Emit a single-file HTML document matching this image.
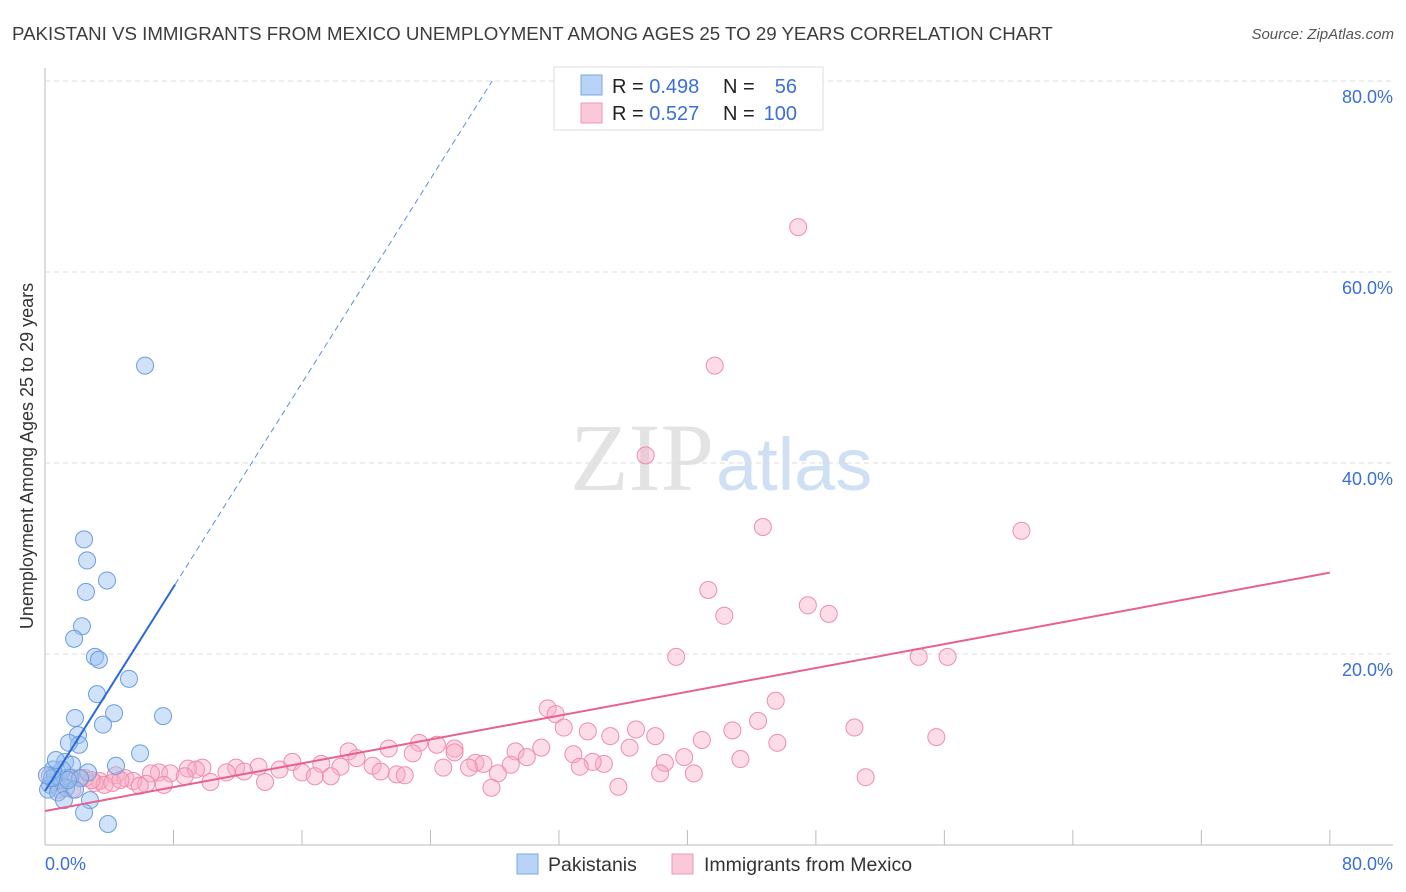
<!DOCTYPE html>
<html><head><meta charset="utf-8"><style>
body{margin:0;background:#fff;font-family:"Liberation Sans",sans-serif;}
svg{display:block}
</style></head><body>
<svg id="chart" width="1406" height="892">
<text x="12" y="40" font-size="18.7" fill="#3c3c3c">PAKISTANI VS IMMIGRANTS FROM MEXICO UNEMPLOYMENT AMONG AGES 25 TO 29 YEARS CORRELATION CHART</text>
<text x="1394" y="39" font-size="15" fill="#555" font-style="italic" text-anchor="end">Source: ZipAtlas.com</text>
<text x="714" y="490" font-size="96" fill="#e3e3e3" text-anchor="end" font-family="Liberation Serif,serif">ZIP</text>
<text x="716" y="490" font-size="74" fill="#cfe0f5">atlas</text>
<text transform="translate(33,456) rotate(-90)" font-size="18" fill="#333" text-anchor="middle">Unemployment Among Ages 25 to 29 years</text>
<g id="grid"></g><g id="pinkpts"></g><g id="bluepts"></g><g id="lines"></g>
<g>
<rect x="554" y="67" width="269" height="63" fill="#fff" stroke="#ddd"/>
<rect x="581" y="75" width="21" height="20" fill="#b8d3f5" stroke="#7aa7e3"/>
<rect x="581" y="103" width="21" height="20" fill="#fac8d8" stroke="#ee9ab5"/>
<text x="612" y="93" font-size="20" fill="#222">R = <tspan fill="#3a6fd8">0.498</tspan></text>
<text x="723" y="93" font-size="20" fill="#222">N = </text><text x="797" y="93" font-size="20" fill="#3a6fd8" text-anchor="end">56</text>
<text x="612" y="120" font-size="20" fill="#222">R = <tspan fill="#3a6fd8">0.527</tspan></text>
<text x="723" y="120" font-size="20" fill="#222">N = </text><text x="797" y="120" font-size="20" fill="#3a6fd8" text-anchor="end">100</text>
</g>
<g>
<rect x="517" y="854" width="21" height="20" fill="#b8d3f5" stroke="#7aa7e3"/>
<text x="548" y="871" font-size="19.5" fill="#333">Pakistanis</text>
<rect x="672" y="854" width="21" height="20" fill="#fac8d8" stroke="#ee9ab5"/>
<text x="704" y="871" font-size="19.5" fill="#333">Immigrants from Mexico</text>
</g>
<text x="45" y="870" font-size="18" fill="#3a6fd8">0.0%</text>
<text x="1393" y="870" font-size="18" fill="#3a6fd8" text-anchor="end">80.0%</text>
</svg>
<script>
const yTicks=[20,40,60,80];
const yTickLabels=["20.0%","40.0%","60.0%","80.0%"];
const blueX=[2.43,2.62,3.86,2.55,2.30,1.81,3.11,3.36,5.23,3.24,4.30,7.35,1.87,3.61,2.05,2.12,1.49,5.92,4.42,1.25,1.68,2.68,2.80,2.43,3.92,6.23,0.62,0.93,0.31,0.19,1.06,0.81,1.56,1.31,1.18,0.50,2.18,1.87,0.68,0.44,0.12,1.43];
const blueY=[32.0,29.8,27.7,26.5,22.9,21.6,19.7,19.4,17.4,15.8,13.8,13.5,13.3,12.6,11.5,10.5,10.7,9.6,8.3,8.7,8.4,7.6,4.7,3.4,2.2,50.2,7.3,6.8,6.3,5.8,7.9,5.5,7.0,6.0,4.7,7.9,7.0,5.8,8.9,7.0,7.3,6.8];
const pinkX=[46.9,41.7,37.4,44.7,60.8,41.3,47.5,42.3,48.8,39.3,54.4,56.2,31.3,31.8,45.5,44.4,32.3,33.8,36.8,38.0,42.8,50.4,55.5,35.2,40.9,45.6,23.3,24.4,25.5,18.9,21.4,25.5,29.3,30.9,32.9,36.4,39.8,43.3,30.0,22.9,19.4,34.8,34.1,26.8,27.3,29.0,33.3,38.6,15.4,17.2,18.4,20.4,24.8,26.4,21.9,22.4,20.9,13.3,11.9,14.6,16.0,16.8,17.8,9.8,8.9,9.4,11.3,12.4,7.1,6.6,7.8,8.7,4.4,5.0,5.5,6.3,7.4,10.3,13.7,38.3,40.4,51.1,28.2,27.8,35.7,3.4,3.1,2.5,1.6,3.7,5.9,1.7,0.3,0.6,0.9,4.2,2.9,2.2,1.2,4.7];
const pinkY=[64.7,50.2,40.8,33.3,32.9,26.7,25.1,24.0,24.2,19.7,19.7,19.7,14.3,13.7,15.1,13.0,12.3,11.9,12.1,11.4,12.0,12.3,11.3,11.4,11.0,10.7,10.7,10.5,10.1,9.8,10.1,9.7,9.8,10.2,9.5,10.2,9.2,9.0,9.2,9.6,9.1,8.5,8.7,8.6,8.5,8.4,8.2,8.6,8.7,8.5,8.2,8.3,8.1,8.1,7.4,7.3,7.7,8.2,8.1,7.9,7.6,7.2,7.2,8.1,8.0,7.9,7.6,7.7,7.6,7.5,7.5,7.2,7.3,7.0,6.7,6.4,6.3,6.6,6.6,7.5,7.5,7.1,7.5,6.0,6.1,6.7,6.5,7.0,7.1,6.3,6.2,5.8,7.2,6.6,5.8,6.5,6.8,7.0,6.6,6.8];
const blueFit=[5.65,2.67,8.1];
const pinkFit=[3.56,0.312];
const NS="http://www.w3.org/2000/svg";
const X=v=>45+v*16.06, Y=v=>845-v*9.55;
function mk(t,a,p){const e=document.createElementNS(NS,t);for(const k in a)e.setAttribute(k,a[k]);p.appendChild(e);return e;}
const grid=document.getElementById('grid');
yTicks.forEach((t,i)=>{
 const l=mk('line',{x1:45,x2:1393,y1:Y(t),y2:Y(t),stroke:'#ddd','stroke-dasharray':'5,4'},grid);
 
 
 const tx=mk('text',{x:1393,y:Y(t)+22,'font-size':18,fill:'#3a6fd8','text-anchor':'end'},grid);
 tx.textContent=yTickLabels[i];
 
 
});
const ax=mk('line',{x1:45,x2:45,y1:68,y2:845,stroke:'#bbb'},grid);


const bx=mk('line',{x1:45,x2:1393,y1:845,y2:845,stroke:'#bbb'},grid);


for(let i=1;i<=10;i++){const t=mk('line',{x1:X(i*8),x2:X(i*8),y1:830,y2:845,stroke:'#bbb'},grid);
 
 }
const pg=document.getElementById('pinkpts');
pinkX.forEach((x,i)=>{const c=mk('circle',{cx:X(x),cy:Y(pinkY[i]),r:8.5,fill:'rgba(248,170,195,0.4)',stroke:'#f08cad','stroke-width':1},pg);
 
 });
const bg=document.getElementById('bluepts');
blueX.forEach((x,i)=>{const c=mk('circle',{cx:X(x),cy:Y(blueY[i]),r:8.5,fill:'rgba(150,190,240,0.45)',stroke:'#6a9de0','stroke-width':1},bg);
 
 });
const lg=document.getElementById('lines');
const bEndDash=(80-blueFit[0])/blueFit[1];
const l1=mk('line',{x1:X(0),y1:Y(blueFit[0]),x2:X(blueFit[2]),y2:Y(blueFit[0]+blueFit[1]*blueFit[2]),stroke:'#2a6ad8','stroke-width':2},lg);


const l2=mk('line',{x1:X(blueFit[2]),y1:Y(blueFit[0]+blueFit[1]*blueFit[2]),x2:X(bEndDash),y2:Y(80),stroke:'#5a8de0','stroke-width':1,'stroke-dasharray':'6,4'},lg);


const l3=mk('line',{x1:X(0),y1:Y(pinkFit[0]),x2:X(80),y2:Y(pinkFit[0]+pinkFit[1]*80),stroke:'#e8608e','stroke-width':2},lg);


</script>
</body></html>
